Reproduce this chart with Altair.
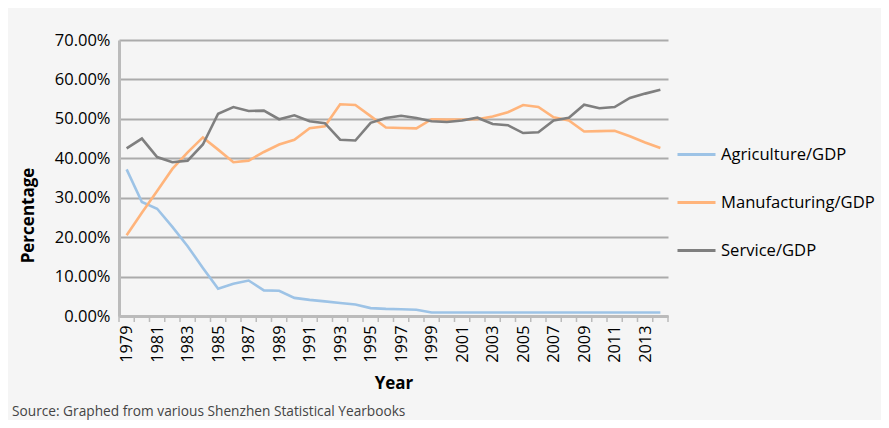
import altair as alt
import pandas as pd

years = list(range(1979, 2015))
agriculture = [37.2, 28.9, 27.2, 22.6, 17.7, 12.2, 6.9, 8.2, 9.0, 6.5,
               6.4, 4.6, 4.1, 3.7, 3.3, 2.9, 2.0, 1.8, 1.7, 1.6,
               0.9, 0.9, 0.9, 0.9, 0.9, 0.9, 0.9, 0.9, 0.9, 0.9,
               0.9, 0.9, 0.9, 0.9, 0.9, 0.9]
manufacturing = [20.5, 26.2, 31.7, 37.3, 41.5, 45.3, 42.2, 39.0, 39.4, 41.6,
                 43.5, 44.7, 47.6, 48.1, 53.7, 53.5, 50.7, 47.8, 47.7, 47.6,
                 49.9, 49.8, 49.8, 49.9, 50.6, 51.7, 53.5, 53.0, 50.4, 49.6,
                 46.8, 46.9, 47.0, 45.6, 44.0, 42.6]
service = [42.5, 45.0, 40.3, 39.0, 39.4, 43.5, 51.3, 53.0, 52.0, 52.1,
           49.9, 50.9, 49.4, 48.9, 44.7, 44.5, 49.0, 50.2, 50.8, 50.2,
           49.4, 49.2, 49.6, 50.3, 48.7, 48.4, 46.4, 46.6, 49.6, 50.3,
           53.6, 52.7, 53.0, 55.3, 56.4, 57.4]
series_names = ["Agriculture/GDP", "Manufacturing/GDP", "Service/GDP"]
series_colors = ["#9DC3E6", "#FFB47B", "#7F7F7F"]
y_ticks = [0.0, 0.1, 0.2, 0.3, 0.4, 0.5, 0.6, 0.7]
x_label_years = years[::2]
source_text = ["Source: Graphed from various Shenzhen Statistical Yearbooks"]

rows = []
for name, vals in zip(series_names, [agriculture, manufacturing, service]):
    for yr, v in zip(years, vals):
        rows.append({"Year": yr, "Series": name, "Value": v / 100.0})
df = pd.DataFrame(rows)
df_years = pd.DataFrame({"Year": years})
df_last = pd.DataFrame({"Year": [years[-1]]})
df_src = pd.DataFrame({"t": source_text})

FONT = "Open Sans"
W, H = 549, 276
step = W / len(years)
GRID = "#ABABAB"
AXIS = "#BBBBBB"

x_enc = alt.X(
    "Year:O",
    scale=alt.Scale(type="point", padding=0.5),
    axis=alt.Axis(
        values=x_label_years, labelAngle=270, ticks=False,
        domainColor=AXIS, domainWidth=3, labelFontSize=16.3,
        labelColor="#000000", labelPadding=9, title="Year",
        titleFontSize=17, titleFontWeight="bold", titlePadding=13,
        titleColor="#000000",
    ),
)

lines = alt.Chart(df).mark_line(strokeWidth=2.6).encode(
    x=x_enc,
    y=alt.Y(
        "Value:Q",
        scale=alt.Scale(domain=[0, 0.7], nice=False),
        axis=alt.Axis(
            values=y_ticks, format=".2%", grid=True, gridColor=GRID,
            gridWidth=2.2, ticks=False, domainColor=AXIS, domainWidth=3,
            labelFontSize=16.5, labelColor="#000000", labelPadding=9,
            title="Percentage", titleFontSize=17, titleFontWeight="bold",
            titleColor="#000000", titleX=-82, titleY=175,
            titleAngle=270, titleAlign="center", titleBaseline="bottom",
        ),
    ),
    color=alt.Color(
        "Series:N",
        scale=alt.Scale(domain=series_names, range=series_colors),
        legend=alt.Legend(
            orient="none", legendX=557, legendY=94, title=None,
            symbolType="stroke", symbolSize=1444, symbolStrokeWidth=3,
            labelFontSize=16.6, labelColor="#000000", labelOffset=4,
            rowPadding=18, labelFont=FONT, labelLimit=300,
        ),
    ),
)

ticks = alt.Chart(df_years).mark_rule(
    color=AXIS, strokeWidth=1.5, xOffset=-step / 2
).encode(x=alt.X("Year:O"), y=alt.value(H), y2=alt.value(H + 6))

tick_end = alt.Chart(df_last).mark_rule(
    color=AXIS, strokeWidth=1.5, xOffset=step / 2
).encode(x=alt.X("Year:O"), y=alt.value(H), y2=alt.value(H + 6))

src = alt.Chart(df_src).mark_text(
    align="left", baseline="middle", fontSize=13.7, font=FONT, color="#444444"
).encode(x=alt.value(-107), y=alt.value(372), text="t:N")

chart = alt.layer(ticks, tick_end, lines, src).properties(
    width=W, height=H, background="#F5F5F5",
    autosize="none",
    padding={"left": 111, "top": 32, "right": 213, "bottom": 104},
).configure(font=FONT).configure_view(stroke=None)

chart.save("out.html", embed_options={"renderer": "svg", "actions": False})
